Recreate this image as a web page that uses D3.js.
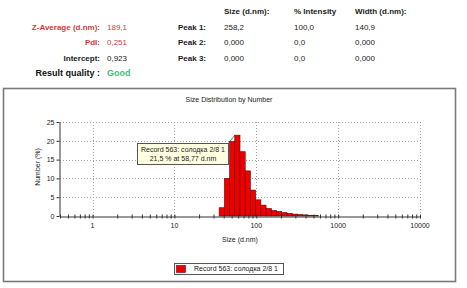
<!DOCTYPE html>
<html>
<head>
<meta charset="utf-8">
<script src="https://cdn.jsdelivr.net/npm/d3@7"></script>
<style>
  html, body { margin: 0; padding: 0; background: #fff; }
  svg { display: block; font-family: Arial, "Liberation Sans", sans-serif; }
</style>
</head>
<body>
<div id="chart"></div>
<script>
// Summary table
const summaryLabels = ["Z-Average (d.nm):", "PdI:", "Intercept:"];
const summaryValues = ["189,1", "0,251", "0,923"];
const peakLabels = ["Peak 1:", "Peak 2:", "Peak 3:"];
const peakHeaders = ["Size (d.nm):", "% Intensity", "Width (d.nm):"];
const peakSize = ["258,2", "0,000", "0,000"];
const peakIntensity = ["100,0", "0,0", "0,0"];
const peakWidth = ["140,9", "0,000", "0,000"];

// Size distribution by number (bin centre in d.nm, % number)
const sizes = [37.84, 43.82, 50.75, 58.77, 68.06, 78.82, 91.28, 105.7, 122.4, 141.8,
               164.2, 190.1, 220.2, 255.0, 295.3, 342.0, 396.1, 458.7, 531.2];
const numbers = [2.2, 10.0, 19.8, 21.5, 17.1, 12.0, 6.9, 4.3, 2.9, 2.0,
                 1.5, 1.2, 0.9, 0.7, 0.5, 0.4, 0.3, 0.2, 0.1];
const xMajor = [1, 10, 100, 1000, 10000];
const yTicks = [0, 5, 10, 15, 20, 25];
const seriesName = "Record 563: солодка 2/8 1";

const width = 467, height = 288;
const svg = d3.select("#chart").append("svg")
    .attr("width", width)
    .attr("height", height);

svg.append("rect").attr("width", width).attr("height", height).attr("fill", "#fff");

// ---- header table ----
const red = "#d23c3c";
const rowY = [27, 42, 58];
const head = svg.append("g").attr("font-size", 8);

summaryLabels.forEach((t, i) => {
    head.append("text").attr("x", 100).attr("y", rowY[i]).attr("dy", "0.35em")
        .attr("text-anchor", "end").attr("font-weight", "bold")
        .attr("fill", i < 2 ? red : "#222").text(t);
    head.append("text").attr("x", 107).attr("y", rowY[i]).attr("dy", "0.35em")
        .attr("fill", i < 2 ? red : "#222").text(summaryValues[i]);
});
head.append("text").attr("x", 100).attr("y", 73).attr("dy", "0.35em")
    .attr("text-anchor", "end").attr("font-weight", "bold").attr("font-size", 9)
    .attr("fill", "#111").text("Result quality :");
head.append("text").attr("x", 107).attr("y", 73).attr("dy", "0.35em")
    .attr("font-weight", "bold").attr("font-size", 9)
    .attr("fill", "#3cbf7c").text("Good");

const colX = [224, 294, 355];
peakHeaders.forEach((t, j) => {
    head.append("text").attr("x", colX[j]).attr("y", 11).attr("dy", "0.35em")
        .attr("font-weight", "bold").attr("fill", "#222").text(t);
});
peakLabels.forEach((t, i) => {
    head.append("text").attr("x", 178).attr("y", rowY[i]).attr("dy", "0.35em")
        .attr("font-weight", "bold").attr("fill", "#222").text(t);
    [peakSize[i], peakIntensity[i], peakWidth[i]].forEach((v, j) => {
        head.append("text").attr("x", colX[j]).attr("y", rowY[i]).attr("dy", "0.35em")
            .attr("fill", "#222").text(v);
    });
});

// ---- chart frame ----
svg.append("rect")
    .attr("x", 3.5).attr("y", 88.5).attr("width", 452).attr("height", 193)
    .attr("fill", "none").attr("stroke", "#7a7a7a").attr("stroke-width", 1.6);

svg.append("text").attr("x", 229).attr("y", 100).attr("dy", "0.35em")
    .attr("text-anchor", "middle").attr("font-size", 7).attr("fill", "#222")
    .text("Size Distribution by Number");

const x = d3.scaleLog().domain([0.4, 10000]).range([60, 420]);
const y = d3.scaleLinear().domain([0, 25]).range([216, 122]);

// grid
const grid = svg.append("g").attr("stroke", "#a0a0a0").attr("stroke-dasharray", "1,2").attr("stroke-width", 1);
yTicks.slice(1).forEach(v => {
    grid.append("line").attr("x1", x(0.4)).attr("x2", x(10000))
        .attr("y1", Math.round(y(v)) + 0.5).attr("y2", Math.round(y(v)) + 0.5);
});
xMajor.forEach(v => {
    grid.append("line").attr("x1", Math.round(x(v)) + 0.5).attr("x2", Math.round(x(v)) + 0.5)
        .attr("y1", y(25)).attr("y2", y(0));
});

// bars
const ratio = Math.sqrt(1.1583);
svg.append("g").selectAll("rect").data(sizes).join("rect")
    .attr("x", d => x(d / ratio))
    .attr("width", d => x(d * ratio) - x(d / ratio))
    .attr("y", (d, i) => y(numbers[i]))
    .attr("height", (d, i) => y(0) - y(numbers[i]))
    .attr("fill", "#ee0000")
    .attr("stroke", "#6a0000")
    .attr("stroke-width", 0.6);

// x axis with minor ticks crossing the line
const minor = [];
for (let e = -1; e < 4; e++) for (let m = 1; m < 10; m++) {
    const v = m * Math.pow(10, e);
    if (v >= 0.4 && v <= 10000) minor.push(v);
}
minor.push(10000);
const xAxis = svg.append("g").attr("transform", `translate(0,${y(0) + 0.5})`)
    .call(d3.axisBottom(x).tickValues(minor).tickSize(2).tickSizeOuter(0).tickFormat(""));
xAxis.select(".domain").attr("stroke", "#333");
xAxis.selectAll(".tick line").attr("y1", -2).attr("stroke", "#333");

svg.append("g").selectAll("text").data(xMajor).join("text")
    .attr("x", d => x(d)).attr("y", 226).attr("dy", "0.35em")
    .attr("text-anchor", "middle").attr("font-size", 7).attr("fill", "#222")
    .text(d => d);

// y axis
const yAxis = svg.append("g").attr("transform", `translate(${x(0.4) - 0.5},0)`)
    .call(d3.axisLeft(y).tickValues(yTicks).tickSize(3).tickSizeOuter(0).tickPadding(2));
yAxis.select(".domain").attr("stroke", "#333");
yAxis.selectAll(".tick line").attr("stroke", "#333");
yAxis.selectAll("text").attr("font-size", 7).attr("fill", "#222").attr("font-family", "Arial, 'Liberation Sans', sans-serif");

svg.append("text").attr("transform", "translate(38,167) rotate(-90)")
    .attr("text-anchor", "middle").attr("dy", "0.35em").attr("font-size", 7).attr("fill", "#222")
    .text("Number (%)");
svg.append("text").attr("x", 240).attr("y", 240).attr("dy", "0.35em")
    .attr("text-anchor", "middle").attr("font-size", 7).attr("fill", "#222")
    .text("Size (d.nm)");

// tooltip on peak
const peakIdx = numbers.indexOf(d3.max(numbers));
svg.append("line")
    .attr("x1", 228).attr("y1", 144)
    .attr("x2", x(sizes[peakIdx] / ratio)).attr("y2", y(numbers[peakIdx]))
    .attr("stroke", "#333").attr("stroke-width", 0.7);
const tip = svg.append("g");
tip.append("rect").attr("x", 137.5).attr("y", 143.5).attr("width", 91).attr("height", 21)
    .attr("fill", "#ffffe1").attr("stroke", "#555").attr("stroke-width", 1);
tip.append("text").attr("x", 183).attr("y", 149.5).attr("dy", "0.35em")
    .attr("text-anchor", "middle").attr("font-size", 7).attr("fill", "#222")
    .text(seriesName);
tip.append("text").attr("x", 183).attr("y", 158.5).attr("dy", "0.35em")
    .attr("text-anchor", "middle").attr("font-size", 7).attr("fill", "#222")
    .text(`${String(numbers[peakIdx]).replace(".", ",")} % at ${String(sizes[peakIdx]).replace(".", ",")} d.nm`);

// legend
const lg = svg.append("g");
lg.append("rect").attr("x", 174.5).attr("y", 263.5).attr("width", 109).attr("height", 11)
    .attr("fill", "#fff").attr("stroke", "#555").attr("stroke-width", 1);
lg.append("rect").attr("x", 176.5).attr("y", 265.5).attr("width", 9).attr("height", 7)
    .attr("fill", "#ee0000").attr("stroke", "#6a0000").attr("stroke-width", 0.6);
lg.append("text").attr("x", 194).attr("y", 269).attr("dy", "0.35em")
    .attr("font-size", 7).attr("fill", "#222").text(seriesName);
</script>
</body>
</html>
